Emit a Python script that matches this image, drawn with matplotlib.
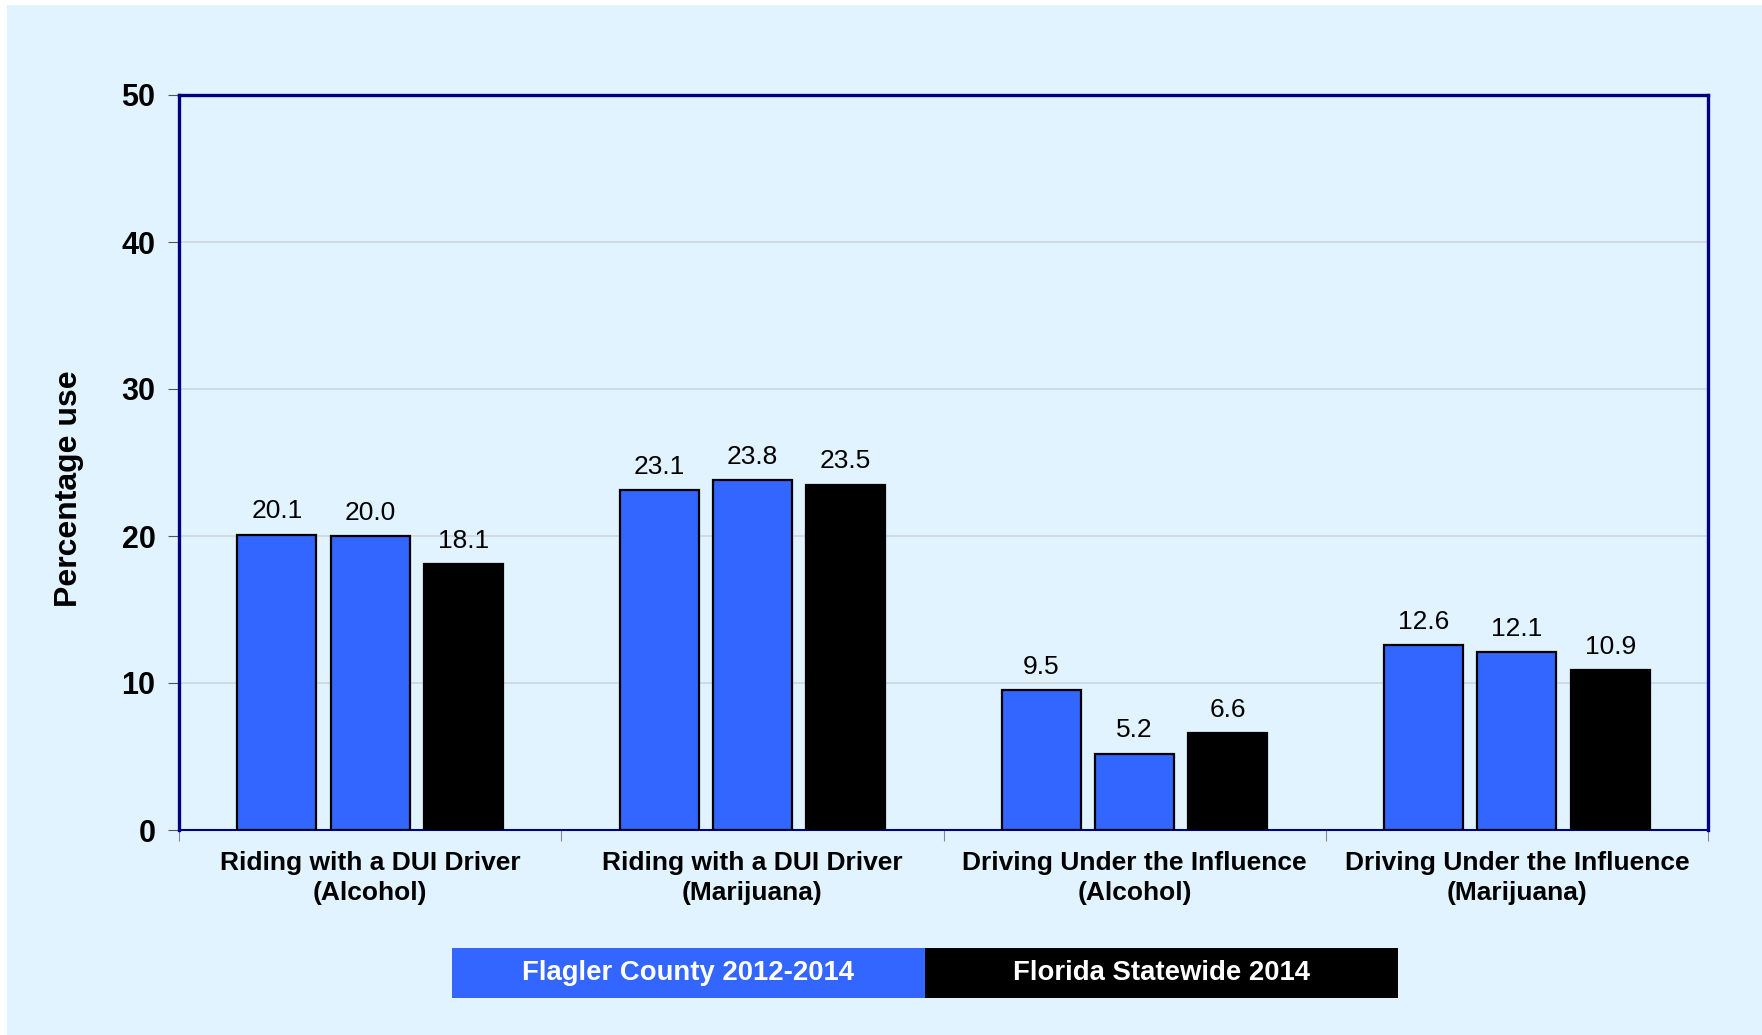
import matplotlib.pyplot as plt
import numpy as np
from matplotlib.patches import Rectangle

plt.rcParams["font.family"] = ["Liberation Sans", "DejaVu Sans"]

categories = [
    "Riding with a DUI Driver\n(Alcohol)",
    "Riding with a DUI Driver\n(Marijuana)",
    "Driving Under the Influence\n(Alcohol)",
    "Driving Under the Influence\n(Marijuana)",
]
flagler_2012 = [20.1, 23.1, 9.5, 12.6]
flagler_2014 = [20.0, 23.8, 5.2, 12.1]
florida_2014 = [18.1, 23.5, 6.6, 10.9]
legend_labels = ["Flagler County 2012-2014", "Florida Statewide 2014"]
yticks = [0, 10, 20, 30, 40, 50]

bg = "#E1F3FE"
blue = "#3366FF"
navy = "#000080"

fig = plt.figure(figsize=(17.62, 10.35), dpi=100, facecolor="white")
fig.patches.append(Rectangle((7 / 1762, 0), 1 - 7 / 1762, 1 - 5 / 1035,
                             transform=fig.transFigure, facecolor=bg,
                             edgecolor="none", zorder=-5))

ax = fig.add_axes([179 / 1762, 1 - 830 / 1035, 1529 / 1762, 735 / 1035])
ax.set_facecolor(bg)

x = np.arange(len(categories))
step = 0.244
width = 0.207
series = [(flagler_2012, blue), (flagler_2014, blue), (florida_2014, "black")]
for i, (vals, color) in enumerate(series):
    bars = ax.bar(x + (i - 1) * step, vals, width, color=color,
                  edgecolor="black", linewidth=1.6, zorder=3)
    for b, v in zip(bars, vals):
        ax.annotate(f"{v:.1f}", (b.get_x() + b.get_width() / 2, v),
                    xytext=(0, 8), textcoords="offset points",
                    ha="center", va="bottom", fontsize=19)

ax.set_xlim(-0.5, len(categories) - 0.5)
ax.set_ylim(0, 50)
ax.set_yticks(yticks)
ax.set_yticklabels([str(t) for t in yticks], fontsize=22, fontweight="bold")
ax.tick_params(axis="y", length=8, color="#555555", pad=9)
ax.yaxis.grid(True, color="#CDD6DA", linewidth=1.2, zorder=0)
ax.set_axisbelow(True)

# category labels centred under groups, ticks at group borders
ax.set_xticks(np.arange(len(categories) + 1) - 0.5)
ax.set_xticklabels([])
ax.tick_params(axis="x", length=8, color="#888888", direction="out")
for xi, lab in zip(x, categories):
    ax.text(xi, -1.45, lab, ha="center", va="top", fontsize=19,
            fontweight="bold", linespacing=1.3)

for side in ["top", "right", "left"]:
    ax.spines[side].set_color(navy)
    ax.spines[side].set_linewidth(2.4)
ax.spines["bottom"].set_color(navy)
ax.spines["bottom"].set_linewidth(1.5)

ax.set_ylabel("Percentage use", fontsize=23, fontweight="bold")
ax.yaxis.set_label_coords(-0.062, 0.464)

# legend as two coloured boxes
boxes = [(452, blue), (925, "black")]
for (x0, color), lab in zip(boxes, legend_labels):
    fig.patches.append(Rectangle((x0 / 1762, 1 - 998 / 1035), 473 / 1762, 50 / 1035,
                                 transform=fig.transFigure, facecolor=color,
                                 edgecolor="none", zorder=1))
    fig.text((x0 + 236.5) / 1762, 1 - 973 / 1035, lab, ha="center", va="center",
             color="white", fontsize=19.8, fontweight="bold")

fig.savefig("out.png", dpi=100, facecolor=fig.get_facecolor())
